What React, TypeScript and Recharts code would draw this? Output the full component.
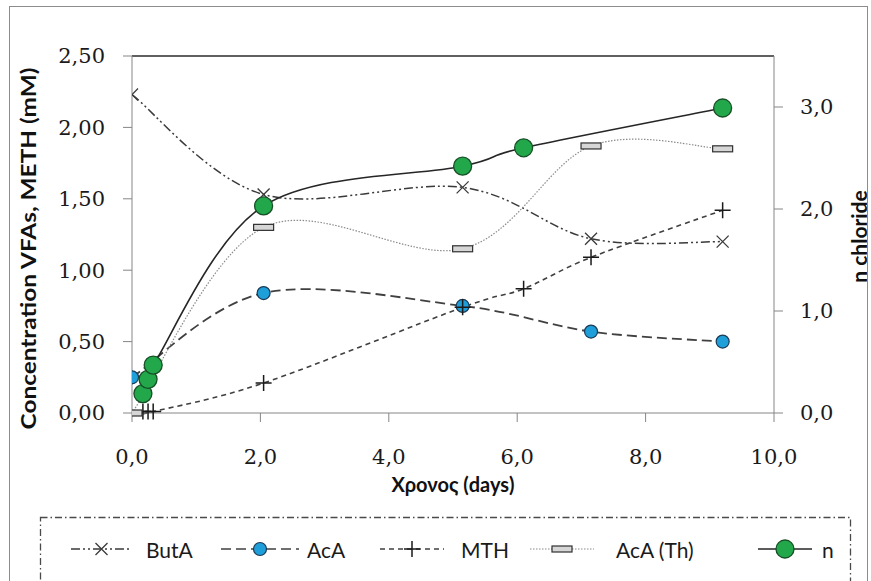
import React from "react";
import { ComposedChart, Line, XAxis, YAxis, ReferenceLine } from "recharts";

// sampling days and measured values
const DAYS_MAIN = [0, 2.05, 5.15, 7.15, 9.2];
const BUTA = [2.23, 1.53, 1.58, 1.22, 1.2];
const ACA = [0.25, 0.84, 0.75, 0.57, 0.5];
const ACA_TH = [0, 1.3, 1.15, 1.87, 1.85];
const DAYS_MTH = [0.17, 0.25, 0.33, 2.05, 5.15, 6.1, 7.15, 9.2];
const MTH = [0.01, 0.01, 0.01, 0.21, 0.74, 0.87, 1.09, 1.42];
const DAYS_N = [0.17, 0.25, 0.33, 2.05, 5.15, 6.1, 9.2];
const N_CHLORIDE = [0.19, 0.33, 0.47, 2.03, 2.42, 2.6, 2.99];

const X_TICKS = [0, 2, 4, 6, 8, 10];
const LEFT_TICKS = [0, 0.5, 1, 1.5, 2, 2.5];
const RIGHT_TICKS = [0, 1, 2, 3];

const pairs = (xs: number[], ys: number[]) => xs.map((x, i) => ({ x, y: ys[i] }));
const butA = pairs(DAYS_MAIN, BUTA);
const acA = pairs(DAYS_MAIN, ACA);
const acATh = pairs(DAYS_MAIN, ACA_TH);
const mth = pairs(DAYS_MTH, MTH);
const nCl = pairs(DAYS_N, N_CHLORIDE);

const comma = (d: number) => (v: number) => v.toFixed(d).replace(".", ",");

const AXIS = "#868686";
const SERIF = "'DejaVu Serif', serif";
const SANS = "Lato, 'Open Sans', sans-serif";
const BLUE = "#1f9fd9";
const GREEN = "#22a84b";

const DASH = {
  butA: "9 3 2 3 2 3",
  acA: "10 5",
  mth: "5 4",
  acATh: "1.5 1.5",
};

// excel-like smoothing: catmull-rom through every point, in pixel space
const smooth = (ctx: any) => {
  let pts: number[][] = [];
  return {
    areaStart() {},
    areaEnd() {},
    lineStart() { pts = []; },
    point(x: number, y: number) { pts.push([+x, +y]); },
    lineEnd() {
      const n = pts.length;
      if (!n) return;
      ctx.moveTo(pts[0][0], pts[0][1]);
      for (let i = 0; i < n - 1; i++) {
        const p0 = pts[Math.max(i - 1, 0)];
        const p1 = pts[i];
        const p2 = pts[i + 1];
        const p3 = pts[Math.min(i + 2, n - 1)];
        ctx.bezierCurveTo(
          p1[0] + (p2[0] - p0[0]) / 6, p1[1] + (p2[1] - p0[1]) / 6,
          p2[0] - (p3[0] - p1[0]) / 6, p2[1] - (p3[1] - p1[1]) / 6,
          p2[0], p2[1]
        );
      }
    },
  };
};

// markers
const Cross = ({ cx, cy, s = 6 }: any) => (
  <path d={`M${cx - s},${cy - s}L${cx + s},${cy + s}M${cx - s},${cy + s}L${cx + s},${cy - s}`}
    stroke="#3a3a3a" strokeWidth={1.3} fill="none" />
);
const Plus = ({ cx, cy, s = 8 }: any) => (
  <path d={`M${cx - s},${cy}L${cx + s},${cy}M${cx},${cy - s}L${cx},${cy + s}`}
    stroke="#1a1a1a" strokeWidth={1.5} fill="none" />
);
const Bar = ({ cx, cy }: any) => (
  <rect x={cx - 10} y={cy - 3} width={20} height={6} fill="#d6d6d6" stroke="#303030" strokeWidth={1.2} />
);
const BlueDot = ({ cx, cy }: any) => (
  <circle cx={cx} cy={cy} r={6.5} fill={BLUE} stroke="#1b3a55" strokeWidth={1.2} />
);
const GreenDot = ({ cx, cy }: any) => (
  <circle cx={cx} cy={cy} r={9} fill={GREEN} stroke="#174f27" strokeWidth={1.3} />
);

const VTitle = (props: any) => {
  const { viewBox, text, px, shift = 0, len } = props;
  const cy = viewBox.y + viewBox.height / 2 + shift;
  return (
    <text x={px} y={cy} transform={`rotate(-90 ${px} ${cy})`} textAnchor="middle"
      dominantBaseline="central" fontFamily={SANS} fontWeight={700} fontSize={21} fill="#111"
      textLength={len} lengthAdjust={len ? "spacingAndGlyphs" : undefined}>
      {text}
    </text>
  );
};

const LEGEND = [
  { name: "ButA", x0: 71, x1: 132, tx: 146, dash: DASH.butA, color: "#3a3a3a", mark: (cx: number, cy: number) => <Cross cx={cx} cy={cy} s={6} /> },
  { name: "AcA", x0: 221, x1: 299, tx: 307, dash: DASH.acA, color: "#404040", mark: (cx: number, cy: number) => <BlueDot cx={cx} cy={cy} /> },
  { name: "MTH", x0: 380, x1: 444, tx: 461, dash: DASH.mth, color: "#404040", mark: (cx: number, cy: number) => <Plus cx={cx} cy={cy} /> },
  { name: "AcA (Th)", x0: 530, x1: 594, tx: 616, dash: DASH.acATh, color: "#8a8a8a", mark: (cx: number, cy: number) => <Bar cx={cx} cy={cy} /> },
  { name: "n", x0: 758, x1: 812, tx: 822, dash: undefined, color: "#262626", mark: (cx: number, cy: number) => <GreenDot cx={cx} cy={cy} /> },
];

export default function App() {
  const ly = 549;
  return (
    <div style={{ position: "absolute", left: 0, top: 0, width: 871, height: 581, overflow: "hidden", background: "#fff" }}>
      <ComposedChart width={871} height={581} margin={{ top: 56, right: 0, left: 0, bottom: 78 }}>
        <XAxis type="number" dataKey="x" domain={[0, 10]} ticks={X_TICKS} tickFormatter={comma(1)}
          stroke={AXIS} tickSize={9} tickMargin={27} height={90} allowDataOverflow
          tick={{ fill: "#1a1a1a", fontFamily: SERIF, fontSize: 21 }}
          label={{ value: "Χρονος (days)", position: "insideBottom", offset: 11, fill: "#111", fontFamily: SANS, fontWeight: 700, fontSize: 20 }} />
        <YAxis yAxisId="left" type="number" domain={[0, 2.5]} ticks={LEFT_TICKS} tickFormatter={comma(2)}
          stroke={AXIS} width={132} tickSize={9} tickMargin={18}
          tick={{ fill: "#1a1a1a", fontFamily: SERIF, fontSize: 21 }}
          label={<VTitle text="Concentration VFAs, METH (mM)" px={27} shift={14} len={362} />} />
        <YAxis yAxisId="right" orientation="right" type="number" domain={[0, 3.5]} ticks={RIGHT_TICKS}
          tickFormatter={comma(1)} stroke={AXIS} width={97} tickSize={9} tickMargin={17}
          tick={{ fill: "#1a1a1a", fontFamily: SERIF, fontSize: 21 }}
          label={<VTitle text="n chloride" px={858} shift={2} />} />
        <ReferenceLine yAxisId="left" y={2.5} stroke="#2b2b2b" strokeWidth={1.3} />

        <Line yAxisId="left" data={butA} dataKey="y" type={smooth as any} stroke="#3a3a3a" strokeWidth={1.5}
          strokeDasharray={DASH.butA} isAnimationActive={false}
          dot={(p: any) => <Cross key={`b${p.index}`} cx={p.cx} cy={p.cy} />} />
        <Line yAxisId="left" data={acA} dataKey="y" type={smooth as any} stroke="#404040" strokeWidth={1.8}
          strokeDasharray={DASH.acA} isAnimationActive={false}
          dot={(p: any) => <BlueDot key={`a${p.index}`} cx={p.cx} cy={p.cy} />} />
        <Line yAxisId="left" data={mth} dataKey="y" type={smooth as any} stroke="#404040" strokeWidth={1.6}
          strokeDasharray={DASH.mth} isAnimationActive={false}
          dot={(p: any) => <Plus key={`m${p.index}`} cx={p.cx} cy={p.cy} />} />
        <Line yAxisId="left" data={acATh} dataKey="y" type={smooth as any} stroke="#8a8a8a" strokeWidth={1.2}
          strokeDasharray={DASH.acATh} isAnimationActive={false}
          dot={(p: any) => <Bar key={`t${p.index}`} cx={p.cx} cy={p.cy} />} />
        <Line yAxisId="right" data={nCl} dataKey="y" type={smooth as any} stroke="#262626" strokeWidth={1.6}
          isAnimationActive={false}
          dot={(p: any) => <GreenDot key={`n${p.index}`} cx={p.cx} cy={p.cy} />} />
      </ComposedChart>

      <svg width={871} height={581} style={{ position: "absolute", left: 0, top: 0, pointerEvents: "none" }}>
        <rect x={9.5} y={6.5} width={858} height={620} fill="none" stroke="#8c8c8c" strokeWidth={1} />
        <rect x={40.5} y={517.5} width={810} height={120} fill="none" stroke="#4a4a4a" strokeWidth={1.3}
          strokeDasharray="7 3 1.5 3" />
        {LEGEND.map((it) => (
          <g key={it.name}>
            <line x1={it.x0} y1={ly} x2={it.x1} y2={ly} stroke={it.color}
              strokeWidth={it.dash === DASH.acATh ? 1.2 : 1.6} strokeDasharray={it.dash} />
            {it.mark((it.x0 + it.x1) / 2, ly)}
            <text x={it.tx} y={ly} dominantBaseline="central" fontFamily={SANS} fontSize={21} fill="#1a1a1a">
              {it.name}
            </text>
          </g>
        ))}
      </svg>
    </div>
  );
}
